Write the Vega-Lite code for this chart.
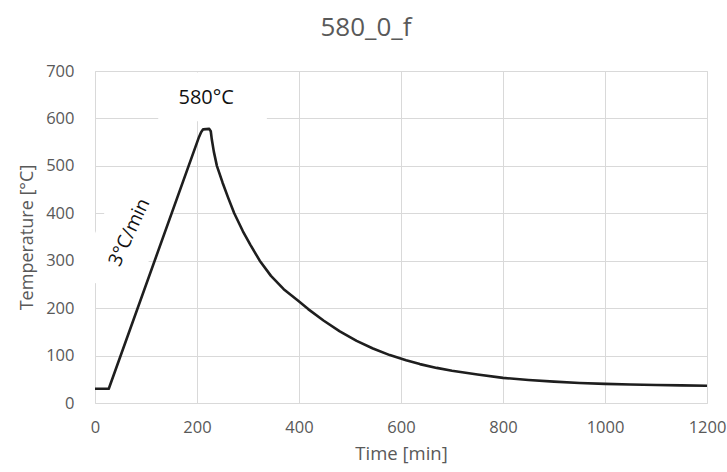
{
  "$schema": "https://vega.github.io/schema/vega-lite/v6.json",
  "width": 612,
  "height": 332,
  "autosize": "none",
  "padding": {"left": 95, "top": 71, "right": 20, "bottom": 69},
  "background": "white",
  "title": {
    "text": "580_0_f",
    "fontSize": 26,
    "font": "Open Sans",
    "fontWeight": "normal",
    "color": "#595959",
    "anchor": "middle",
    "baseline": "alphabetic",
    "offset": 1,
    "dx": -35
  },
  "datasets": {
    "curve": [
      {"t": 0, "T": 30}, {"t": 27, "T": 30}, {"t": 204, "T": 561}, {"t": 208, "T": 571},
      {"t": 212, "T": 577}, {"t": 224, "T": 578}, {"t": 227, "T": 573}, {"t": 229, "T": 556},
      {"t": 233, "T": 530}, {"t": 239, "T": 500}, {"t": 250, "T": 465}, {"t": 261, "T": 433},
      {"t": 273, "T": 400}, {"t": 290, "T": 362}, {"t": 305, "T": 333}, {"t": 323, "T": 300},
      {"t": 345, "T": 268}, {"t": 370, "T": 240}, {"t": 399, "T": 215}, {"t": 418, "T": 198},
      {"t": 448, "T": 174}, {"t": 480, "T": 151}, {"t": 513, "T": 131}, {"t": 545, "T": 115},
      {"t": 578, "T": 101}, {"t": 610, "T": 90}, {"t": 637, "T": 82}, {"t": 670, "T": 74},
      {"t": 700, "T": 68}, {"t": 750, "T": 60}, {"t": 800, "T": 53}, {"t": 850, "T": 48.5},
      {"t": 900, "T": 45}, {"t": 950, "T": 42.3}, {"t": 1000, "T": 40.3}, {"t": 1050, "T": 38.9},
      {"t": 1100, "T": 37.9}, {"t": 1150, "T": 37.1}, {"t": 1200, "T": 36.5}
    ],
    "peakBox": [{"t": 124, "t2": 337, "T": 594, "T2": 697}],
    "rateBox": [{"t": 62, "T": 350}],
    "peakLabel": [{"t": 218, "T": 644, "label": "580°C"}],
    "rateLabel": [{"t": 67, "T": 360, "label": "3°C/min"}]
  },
  "encoding": {
    "x": {
      "field": "t",
      "type": "quantitative",
      "scale": {"domain": [0, 1200], "nice": false, "zero": false},
      "axis": {
        "title": "Time [min]",
        "values": [0, 200, 400, 600, 800, 1000, 1200],
        "format": "d",
        "grid": true,
        "gridColor": "#d9d9d9",
        "gridWidth": 1,
        "domain": false,
        "ticks": false,
        "tickSize": 0,
        "labelPadding": 16,
        "labelFont": "Open Sans",
        "labelFontSize": 16.5,
        "labelColor": "#595959",
        "labelFlush": false,
        "titleFont": "Open Sans",
        "titleFontSize": 18.5,
        "titleFontWeight": "normal",
        "titleColor": "#595959",
        "titlePadding": 9
      }
    },
    "y": {
      "field": "T",
      "type": "quantitative",
      "scale": {"domain": [0, 700], "nice": false, "zero": false},
      "axis": {
        "title": "Temperature [°C]",
        "values": [0, 100, 200, 300, 400, 500, 600, 700],
        "format": "d",
        "grid": true,
        "gridColor": "#d9d9d9",
        "gridWidth": 1,
        "domain": false,
        "ticks": false,
        "tickSize": 0,
        "labelPadding": 21,
        "labelFont": "Open Sans",
        "labelFontSize": 16.5,
        "labelColor": "#595959",
        "labelFlush": false,
        "titleFont": "Open Sans",
        "titleFontSize": 18,
        "titleFontWeight": "normal",
        "titleColor": "#595959",
        "titlePadding": 9
      }
    }
  },
  "layer": [
    {
      "data": {"name": "peakBox"},
      "mark": {"type": "rect", "fill": "white", "stroke": null},
      "encoding": {"x2": {"field": "t2"}, "y2": {"field": "T2"}}
    },
    {
      "data": {"name": "rateBox"},
      "mark": {
        "type": "point",
        "shape": "M-1,-0.55L1,-0.55L1,0.55L-1,0.55Z",
        "size": 12100,
        "angle": 295,
        "filled": true,
        "fill": "white",
        "stroke": null,
        "opacity": 1
      }
    },
    {
      "data": {"name": "curve"},
      "mark": {"type": "line", "color": "#1e1e1e", "strokeWidth": 2.6, "strokeJoin": "round", "strokeCap": "butt"}
    },
    {
      "data": {"name": "peakLabel"},
      "mark": {"type": "text", "font": "Open Sans", "fontSize": 20, "color": "#111111", "align": "center", "baseline": "middle"},
      "encoding": {"text": {"field": "label"}}
    },
    {
      "data": {"name": "rateLabel"},
      "mark": {"type": "text", "font": "Open Sans", "fontSize": 19, "color": "#111111", "align": "center", "baseline": "middle", "angle": 295},
      "encoding": {"text": {"field": "label"}}
    }
  ]
}
